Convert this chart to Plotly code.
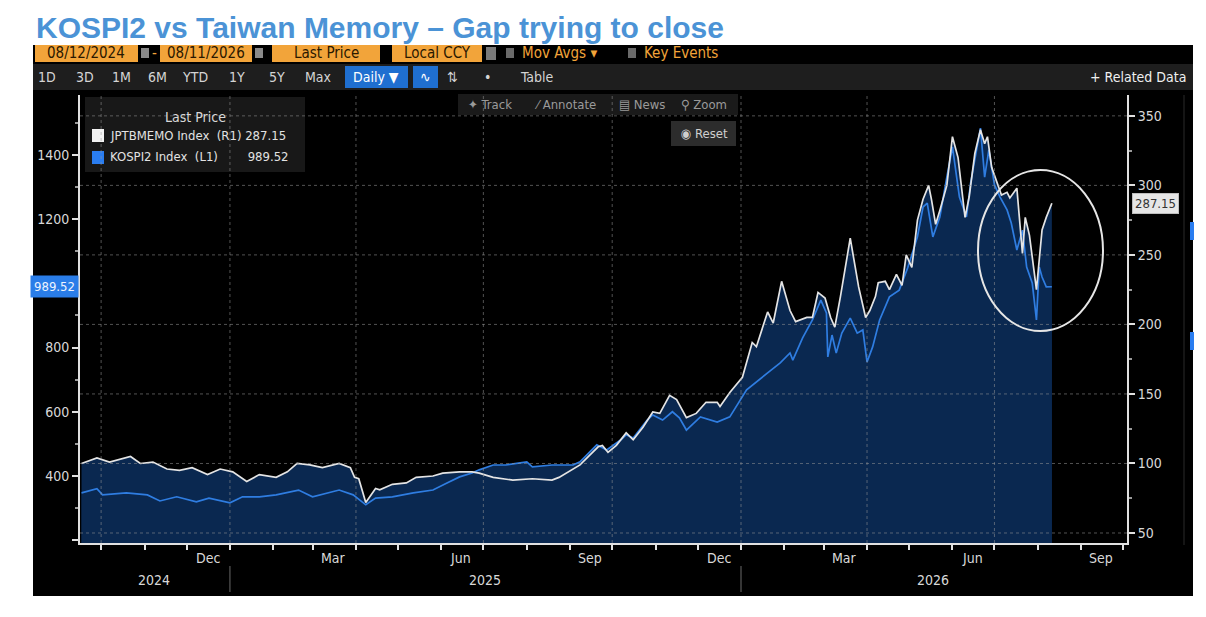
import plotly.graph_objects as go

# ---------------- DATA ----------------
memo_dates = [
    "2024-09-17", "2024-09-28", "2024-10-07", "2024-10-22", "2024-10-29", "2024-11-07", "2024-11-17",
    "2024-11-26", "2024-12-05", "2024-12-16", "2024-12-25", "2025-01-03", "2025-01-13", "2025-01-22",
    "2025-02-03", "2025-02-11", "2025-02-18", "2025-02-27", "2025-03-08", "2025-03-20", "2025-03-28",
    "2025-03-31", "2025-04-03", "2025-04-08", "2025-04-15", "2025-04-18", "2025-04-27", "2025-05-07",
    "2025-05-14", "2025-05-26", "2025-06-02", "2025-06-14", "2025-06-23", "2025-06-28", "2025-07-08",
    "2025-07-22", "2025-08-05", "2025-08-19", "2025-08-24", "2025-08-31", "2025-09-08", "2025-09-15",
    "2025-09-21", "2025-09-24", "2025-09-28", "2025-10-04", "2025-10-11", "2025-10-16", "2025-10-23",
    "2025-10-30", "2025-11-04", "2025-11-11", "2025-11-16", "2025-11-23", "2025-11-30", "2025-12-07",
    "2025-12-15", "2025-12-17", "2025-12-24", "2026-01-02", "2026-01-09", "2026-01-12", "2026-01-20",
    "2026-01-24", "2026-01-30", "2026-02-05", "2026-02-09", "2026-02-17", "2026-02-21", "2026-02-25",
    "2026-03-02", "2026-03-06", "2026-03-09", "2026-03-13", "2026-03-20", "2026-03-26", "2026-03-31",
    "2026-04-03", "2026-04-07", "2026-04-09", "2026-04-14", "2026-04-17", "2026-04-22", "2026-04-26",
    "2026-04-29", "2026-05-03", "2026-05-07", "2026-05-11", "2026-05-15", "2026-05-17", "2026-05-20",
    "2026-05-23", "2026-05-28", "2026-06-01", "2026-06-05", "2026-06-10", "2026-06-13", "2026-06-17",
    "2026-06-21", "2026-06-24", "2026-06-26", "2026-06-29", "2026-07-03", "2026-07-06", "2026-07-10",
    "2026-07-12", "2026-07-17", "2026-07-21", "2026-07-23", "2026-07-26", "2026-07-31", "2026-08-04",
    "2026-08-07", "2026-08-11",
]
memo_vals = [
    100, 104, 101, 105, 100, 101, 96,
    95, 97, 92, 96, 94, 87, 92,
    90, 94, 100, 99, 97, 100, 97,
    90, 89, 72, 82, 81, 85, 86,
    90, 91, 93, 94, 94, 93, 90,
    88, 89, 88, 90, 94, 99, 106,
    112, 113, 108, 113, 122, 117, 126,
    137, 136, 149, 146, 133, 136, 144,
    144, 141, 151, 162, 187, 184, 209,
    201, 231, 210, 202, 205, 205, 223,
    219, 205, 198, 220, 262, 227, 205,
    210, 220, 230, 231, 225, 236, 228,
    250, 241, 275, 290, 300, 290, 272,
    282, 300, 335, 320, 277, 292, 323,
    340, 330, 335, 313, 302, 293, 295,
    291, 298, 251, 277, 264, 225, 268,
    277, 287.15,
]

kospi_dates = [
    "2024-09-17", "2024-09-28", "2024-10-02", "2024-10-19", "2024-11-03", "2024-11-12", "2024-11-24",
    "2024-12-08", "2024-12-17", "2025-01-01", "2025-01-10", "2025-01-22", "2025-02-03", "2025-02-19",
    "2025-03-01", "2025-03-20", "2025-03-30", "2025-04-08", "2025-04-15", "2025-04-27", "2025-05-12",
    "2025-05-26", "2025-06-05", "2025-06-14", "2025-06-23", "2025-06-28", "2025-07-08", "2025-07-17",
    "2025-08-01", "2025-08-05", "2025-08-19", "2025-09-03", "2025-09-08", "2025-09-15", "2025-09-20",
    "2025-09-27", "2025-10-07", "2025-10-11", "2025-10-16", "2025-10-26", "2025-10-30", "2025-11-06",
    "2025-11-13", "2025-11-18", "2025-11-23", "2025-12-03", "2025-12-15", "2025-12-24", "2026-01-05",
    "2026-01-20", "2026-01-29", "2026-02-05", "2026-02-07", "2026-02-14", "2026-02-21", "2026-02-27",
    "2026-03-03", "2026-03-04", "2026-03-07", "2026-03-10", "2026-03-14", "2026-03-20", "2026-03-25",
    "2026-03-29", "2026-04-01", "2026-04-05", "2026-04-10", "2026-04-17", "2026-04-24", "2026-04-30",
    "2026-05-07", "2026-05-11", "2026-05-14", "2026-05-18", "2026-05-23", "2026-05-28", "2026-06-01",
    "2026-06-06", "2026-06-11", "2026-06-14", "2026-06-18", "2026-06-21", "2026-06-24", "2026-06-27",
    "2026-07-01", "2026-07-05", "2026-07-10", "2026-07-13", "2026-07-17", "2026-07-21", "2026-07-24",
    "2026-07-28", "2026-07-31", "2026-08-02", "2026-08-04", "2026-08-07", "2026-08-11",
]
kospi_vals = [
    347, 360, 341, 347, 341, 322, 335,
    319, 331, 316, 335, 335, 341, 356,
    335, 356, 341, 310, 331, 335, 347,
    356, 378, 397, 409, 419, 434, 434,
    444, 428, 434, 434, 444, 475, 497,
    481, 512, 528, 518, 574, 590, 574,
    600, 581, 543, 584, 568, 584, 668,
    721, 752, 783, 761, 830, 886, 948,
    908, 771, 839, 783, 845, 892, 845,
    855, 755, 802, 886, 958, 979, 1048,
    1145, 1238, 1250, 1145, 1207, 1331, 1425,
    1269, 1207, 1313, 1406, 1484, 1331, 1416,
    1307, 1269, 1229, 1188, 1104, 1166, 1051,
    1001, 886, 1051, 1020, 989, 989.52,
]

# axis ticks / labels
left_tick_vals = [200, 400, 600, 800, 1000, 1200, 1400]
left_tick_text = ["", "400", "600", "800", "", "1200", "1400"]
right_tick_vals = [50, 100, 150, 200, 250, 300, 350]
grid_dates = ["2024-10-01", "2025-01-01", "2025-04-01", "2025-07-01",
              "2025-10-01", "2026-01-01", "2026-04-01", "2026-07-01"]
month_labels = ["Dec", "Mar", "Jun", "Sep", "Dec", "Mar", "Jun", "Sep"]
month_label_dates = ["2024-12-16", "2025-03-16", "2025-06-15", "2025-09-15",
                     "2025-12-16", "2026-03-16", "2026-06-15", "2026-09-15"]
year_labels = ["2024", "2025", "2026"]
year_label_dates = ["2024-11-08", "2025-07-02", "2026-05-18"]
year_breaks = ["2025-01-01", "2026-01-01"]

X_RANGE = ["2024-09-15 22:00", "2026-10-03 16:00"]
KOSPI_RANGE = [191, 1587]
MEMO_RANGE = [42.8, 365]

# ---------------- LAYOUT HELPERS ----------------
# page body has an 8px margin: figure is drawn 8px right/down of window origin
OFF = 8
W, H = 1206 - OFF, 617 - OFF
# plot area in window (reference) pixels
L, R, T, B = 80, 1127, 95, 543


def px(x):
    return (x - L) / (R - L)


def py(y):
    return (B - y) / (B - T)


FONT = "DejaVu Sans Condensed, Liberation Sans Narrow, Arial Narrow, DejaVu Sans, sans-serif"
NAVY = "#0a2850"
BLUE = "#2f7de1"
WHITE_LINE = "#e4e4e4"
AX = "#d8d8d8"
ORANGE = "#f2a43a"

fig = go.Figure()
fig.add_trace(go.Scatter(x=kospi_dates, y=kospi_vals, yaxis="y", mode="lines",
                         line=dict(width=0, color=NAVY), fill="tozeroy", fillcolor=NAVY,
                         hoverinfo="skip", showlegend=False))
fig.add_trace(go.Scatter(x=memo_dates, y=memo_vals, yaxis="y2", mode="lines",
                         line=dict(width=0, color=NAVY), fill="tozeroy", fillcolor=NAVY,
                         hoverinfo="skip", showlegend=False))
fig.add_trace(go.Scatter(x=kospi_dates, y=kospi_vals, yaxis="y3", mode="lines",
                         line=dict(width=1.7, color=BLUE), name="KOSPI2 Index (L1)",
                         showlegend=False))
fig.add_trace(go.Scatter(x=memo_dates, y=memo_vals, yaxis="y4", mode="lines",
                         line=dict(width=1.7, color=WHITE_LINE), name="JPTBMEMO Index (R1)",
                         showlegend=False))

shapes = []
annotations = []


def rect(x0, y0, x1, y1, color, layer="below", line=None):
    shapes.append(dict(type="rect", xref="paper", yref="paper",
                       x0=px(x0), x1=px(x1), y0=py(y1), y1=py(y0),
                       fillcolor=color, line=line or dict(width=0), layer=layer))


def text(x, y, s, size=14, color="#d8d8d8", anchor="center", bg=None, family=FONT, pad=1):
    a = dict(xref="paper", yref="paper", x=px(x), y=py(y), text=s, showarrow=False,
             xanchor=anchor, yanchor="middle", font=dict(family=family, size=size, color=color),
             borderpad=pad)
    if bg:
        a["bgcolor"] = bg
    annotations.append(a)


# black Bloomberg panel
rect(33, 45, 1193, 596, "#000000")
# orange header row
rect(35, 45, 138, 62, ORANGE)
rect(141, 48, 149, 58, "#8a8a8a")
rect(160, 45, 252, 62, ORANGE)
rect(255, 48, 263, 58, "#8a8a8a")
rect(272, 45, 380, 62, ORANGE)
rect(392, 45, 482, 62, ORANGE)
rect(486, 47, 496, 60, "#7a7a7a")
rect(506, 48, 514, 58, "#6a6a6a")
rect(628, 48, 636, 58, "#6a6a6a")
text(86, 53, "08/12/2024", 15, "#2a1800")
text(154, 53, "-", 15, ORANGE)
text(206, 53, "08/11/2026", 15, "#2a1800")
text(326, 53, "Last Price", 15, "#2a1800")
text(437, 53, "Local CCY", 15, "#2a1800")
text(520, 53, "Mov Avgs ▾", 15, ORANGE, anchor="left")
text(642, 53, "Key Events", 15, ORANGE, anchor="left")

# toolbar row
rect(33, 64, 1193, 90, "#1e1e1e")
for xx, s in [(47, "1D"), (85, "3D"), (121, "1M"), (157, "6M"), (195, "YTD"),
              (237, "1Y"), (277, "5Y"), (318, "Max"), (452, "⇅"), (487, "•"), (537, "Table")]:
    text(xx, 77, s, 14, "#d4d4d4")
rect(345, 66, 408, 88, "#1f6fd0")
text(376, 77, "Daily ▼", 14, "#ffffff")
rect(413, 66, 438, 88, "#1f6fd0")
text(425, 77, "∿", 14, "#ffffff")
text(1188, 77, "+ Related Data", 14, "#f0f0f0", anchor="right")

# chart tool row and reset button
rect(458, 94, 738, 115, "#1a1a1a")
for xx, s in [(466, "✦ Track"), (532, "⁄ Annotate"), (617, "▤ News"), (679, "⚲ Zoom")]:
    text(xx, 104, s, 13, "#9a9a9a", anchor="left")
rect(671, 121, 736, 146, "#2c2c2c")
text(704, 133, "◉ Reset", 13, "#cfcfcf")

# legend box
rect(85, 97, 305, 172, "#181818")
text(195, 117, "Last Price", 14, "#d8d8d8")
rect(92, 129, 104, 142, "#f2f2f2")
rect(92, 151, 104, 164, "#2a7df0")
text(108, 135, "JPTBMEMO Index  (R1) %.2f" % memo_vals[-1], 13, "#e2e2e2", anchor="left")
text(108, 157, "KOSPI2 Index  (L1)        %.2f" % kospi_vals[-1], 13, "#e2e2e2", anchor="left")

# gridlines (dotted, above fill)
GRID = dict(color="rgba(150,150,150,0.55)", width=1, dash="dot")
for d in grid_dates:
    shapes.append(dict(type="line", xref="x", yref="paper", x0=d, x1=d, y0=0, y1=1,
                       line=GRID, layer="above"))
for v in right_tick_vals:
    shapes.append(dict(type="line", xref="paper", yref="y2", x0=0, x1=1, y0=v, y1=v,
                       line=GRID, layer="above"))

# year separators on the time axis
for d in year_breaks:
    shapes.append(dict(type="line", xref="x", yref="paper", x0=d, x1=d,
                       y0=py(592), y1=py(566), line=dict(color="#6a6a6a", width=1), layer="above"))

# month / year labels
for d, s in zip(month_label_dates, month_labels):
    annotations.append(dict(xref="x", yref="paper", x=d, y=py(558), text=s, showarrow=False,
                            xanchor="center", yanchor="middle",
                            font=dict(family=FONT, size=14, color=AX)))
for d, s in zip(year_label_dates, year_labels):
    annotations.append(dict(xref="x", yref="paper", x=d, y=py(580), text=s, showarrow=False,
                            xanchor="center", yanchor="middle",
                            font=dict(family=FONT, size=14, color=AX)))

# highlight circle
shapes.append(dict(type="circle", xref="paper", yref="paper",
                   x0=px(978), x1=px(1103), y0=py(331), y1=py(170),
                   line=dict(color="#e6e6e6", width=2), layer="above"))

# right-edge fragments
shapes.append(dict(type="line", xref="paper", yref="paper", x0=px(1184), x1=px(1184),
                   y0=py(545), y1=py(95), line=dict(color="#2a2a2a", width=1), layer="below"))
rect(1190, 222, 1194, 240, "#2a7df0")
rect(1190, 332, 1194, 350, "#2a7df0")

# last value labels
annotations.append(dict(xref="paper", yref="y2", x=px(1132), y=memo_vals[-1],
                        text="%.2f" % memo_vals[-1], showarrow=False, xanchor="left",
                        yanchor="middle", bgcolor="#e6e6e6", bordercolor="#bdbdbd", borderwidth=1,
                        borderpad=2, font=dict(family=FONT, size=13, color="#333333")))
annotations.append(dict(xref="paper", yref="y", x=px(79), y=kospi_vals[-1],
                        text="%.2f" % kospi_vals[-1], showarrow=False, xanchor="right",
                        yanchor="middle", bgcolor="#2a7de8", borderpad=3,
                        font=dict(family=FONT, size=13, color="#eef4ff")))

# title
annotations.append(dict(xref="paper", yref="paper", x=px(34), y=py(9), xanchor="left",
                        yanchor="top", showarrow=False,
                        text="<b>KOSPI2 vs Taiwan Memory – Gap trying to close</b>",
                        font=dict(family="Liberation Sans, Arial, sans-serif", size=30,
                                  color="#4b93d6")))

tickfont = dict(family=FONT, size=14, color=AX)
fig.update_layout(
    width=W, height=H,
    margin=dict(l=L - OFF, r=W - (R - OFF), t=T - OFF, b=H - (B - OFF)),
    paper_bgcolor="#ffffff", plot_bgcolor="#000000",
    showlegend=False,
    xaxis=dict(type="date", range=X_RANGE, showgrid=False, zeroline=False,
               showline=True, linecolor="#e0e0e0", linewidth=2,
               ticks="outside", ticklen=5, tickwidth=1.5, tickcolor="#e0e0e0",
               tickmode="linear", tick0="2024-10-01", dtick="M1",
               showticklabels=False, fixedrange=True),
    yaxis=dict(range=KOSPI_RANGE, side="left", tickmode="array",
               tickvals=left_tick_vals, ticktext=left_tick_text,
               ticks="outside", ticklen=6, tickwidth=2, tickcolor="#e0e0e0",
               showline=True, linecolor="#e0e0e0", linewidth=2,
               showgrid=False, zeroline=False, tickfont=tickfont,
               minor=dict(dtick=100, tick0=0, ticks="outside", ticklen=3,
                          tickcolor="#9a9a9a", showgrid=False),
               fixedrange=True),
    yaxis2=dict(range=MEMO_RANGE, side="right", overlaying="y", anchor="x",
                tickmode="array", tickvals=right_tick_vals,
                ticks="outside", ticklen=6, tickwidth=2, tickcolor="#e0e0e0",
                showline=True, linecolor="#e0e0e0", linewidth=2,
                showgrid=False, zeroline=False, tickfont=tickfont,
                minor=dict(dtick=25, tick0=0, ticks="outside", ticklen=3,
                           tickcolor="#9a9a9a", showgrid=False),
                fixedrange=True),
    yaxis3=dict(range=KOSPI_RANGE, overlaying="y", anchor="x", visible=False, fixedrange=True),
    yaxis4=dict(range=MEMO_RANGE, overlaying="y", anchor="x", visible=False, fixedrange=True),
    shapes=shapes,
    annotations=annotations,
)

fig.write_html("out.html")
